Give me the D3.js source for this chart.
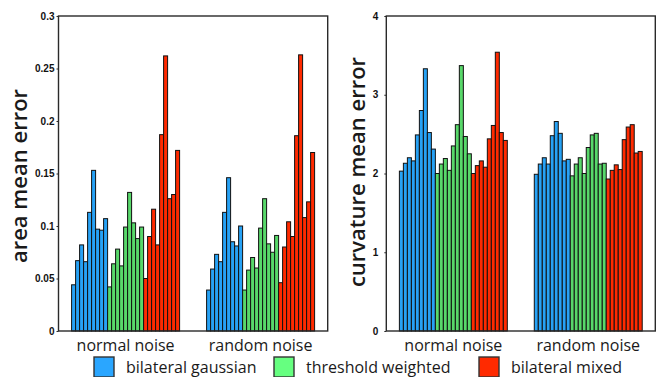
<!DOCTYPE html>
<html>
<head>
<meta charset="utf-8">
<script src="https://cdn.jsdelivr.net/npm/d3@7"></script>
<style>
  body { margin: 0; background: #fff; }
  .tick-lbl { font-family: "Liberation Sans Narrow", "Liberation Sans", sans-serif; font-weight: bold; font-size: 10px; }
  .title { font-family: "Open Sans", sans-serif; font-size: 22px; font-weight: 600; fill: #1a1a1a; }
  .cat { font-family: "Open Sans", sans-serif; font-size: 16px; fill: #1a1a1a; }
</style>
</head>
<body>
<svg id="chart" width="658" height="377"></svg>
<script>
// categories and series
const noiseTypes = ['normal noise', 'random noise'];
const methods = ['bilateral gaussian', 'threshold weighted', 'bilateral mixed'];
const colors = ['#27a2f5', '#58d86a', '#ff2a00'];
const legendColors = ['#2aa6ff', '#66ff80', '#ff2a00'];

// area mean error (9 runs per method)
const areaNormalGaussian  = [0.044, 0.067, 0.082, 0.066, 0.113, 0.153, 0.097, 0.096, 0.107];
const areaNormalThreshold = [0.042, 0.064, 0.078, 0.062, 0.099, 0.132, 0.103, 0.088, 0.099];
const areaNormalMixed     = [0.050, 0.090, 0.116, 0.082, 0.187, 0.262, 0.126, 0.130, 0.172];
const areaRandomGaussian  = [0.039, 0.059, 0.073, 0.066, 0.113, 0.146, 0.085, 0.081, 0.100];
const areaRandomThreshold = [0.039, 0.058, 0.070, 0.060, 0.098, 0.126, 0.083, 0.075, 0.091];
const areaRandomMixed     = [0.046, 0.080, 0.104, 0.090, 0.186, 0.263, 0.108, 0.123, 0.170];

// curvature mean error
const curvNormalGaussian  = [2.03, 2.13, 2.20, 2.16, 2.49, 2.80, 3.33, 2.52, 2.31];
const curvNormalThreshold = [2.00, 2.12, 2.19, 2.04, 2.35, 2.62, 3.37, 2.47, 2.25];
const curvNormalMixed     = [2.00, 2.10, 2.16, 2.08, 2.44, 2.61, 3.54, 2.52, 2.42];
const curvRandomGaussian  = [1.99, 2.12, 2.20, 2.12, 2.48, 2.66, 2.51, 2.16, 2.18];
const curvRandomThreshold = [1.97, 2.12, 2.20, 2.00, 2.33, 2.49, 2.51, 2.12, 2.13];
const curvRandomMixed     = [1.93, 2.04, 2.11, 2.05, 2.43, 2.59, 2.62, 2.26, 2.28];

// tick labels
const areaTicks = [0, 0.05, 0.1, 0.15, 0.2, 0.25, 0.3];
const curvTicks = [0, 1, 2, 3, 4];

const svg = d3.select('#chart');

// flatten one noise group into 27 bars (method order: gaussian, threshold, mixed)
function groupBars(series) {
  const bars = [];
  series.forEach((vals, m) => vals.forEach(v => bars.push({ m: m, v: v })));
  return bars;
}

function drawPanel(opt) {
  const g = svg.append('g');

  const x0 = d3.scaleBand()
      .domain(noiseTypes)
      .range([opt.left, opt.right])
      .paddingInner(0.2)
      .paddingOuter(0.097);

  const y = d3.scaleLinear()
      .domain([0, opt.max])
      .range([331, 16]);

  const xi = d3.scaleBand()
      .domain(d3.range(27))
      .range([0, x0.bandwidth()]);

  // bars
  noiseTypes.forEach((n, k) => {
    const bars = groupBars(opt.data[k]);
    g.append('g')
        .attr('transform', 'translate(' + x0(n) + ',0)')
        .selectAll('rect')
        .data(bars)
        .enter()
        .append('rect')
        .attr('x', (d, i) => xi(i))
        .attr('y', d => y(d.v))
        .attr('width', xi.bandwidth())
        .attr('height', d => y(0) - y(d.v))
        .attr('fill', d => colors[d.m])
        .attr('stroke', '#111')
        .attr('stroke-width', 1);
  });

  // frame
  g.append('rect')
      .attr('x', opt.left)
      .attr('y', 16)
      .attr('width', opt.right - opt.left)
      .attr('height', 315)
      .attr('fill', 'none')
      .attr('stroke', '#2a2a2a')
      .attr('stroke-width', 1.4);

  // y axis
  const ax = g.append('g')
      .attr('transform', 'translate(' + opt.left + ',0)')
      .call(d3.axisLeft(y).tickValues(opt.ticks).tickSize(2).tickPadding(opt.pad).tickFormat(d3.format('~g')));
  ax.select('.domain').remove();
  ax.selectAll('line').attr('stroke', '#2a2a2a');
  ax.selectAll('text').attr('class', 'tick-lbl').attr('fill', '#111');

  // category labels
  g.selectAll('.cat')
      .data(noiseTypes)
      .enter()
      .append('text')
      .attr('class', 'cat')
      .attr('x', d => x0(d) + x0.bandwidth() / 2)
      .attr('y', 350.5)
      .attr('text-anchor', 'middle')
      .text(d => d);

  // y title
  g.append('text')
      .attr('class', 'title')
      .attr('transform', 'translate(' + opt.titleX + ',' + opt.titleY + ') rotate(-90)')
      .attr('text-anchor', 'middle')
      .text(opt.title);
}

drawPanel({
  left: 58.5, right: 327.7, max: 0.3, ticks: areaTicks, pad: 2,
  title: 'area mean error', titleX: 27, titleY: 176,
  data: [[areaNormalGaussian, areaNormalThreshold, areaNormalMixed],
         [areaRandomGaussian, areaRandomThreshold, areaRandomMixed]]
});

drawPanel({
  left: 386.3, right: 655.3, max: 4, ticks: curvTicks, pad: 6,
  title: 'curvature mean error', titleX: 365, titleY: 172,
  data: [[curvNormalGaussian, curvNormalThreshold, curvNormalMixed],
         [curvRandomGaussian, curvRandomThreshold, curvRandomMixed]]
});

// legend
const legendX = [94, 274, 479];
const legend = svg.append('g');
legend.selectAll('rect')
    .data(methods)
    .enter()
    .append('rect')
    .attr('x', (d, i) => legendX[i])
    .attr('y', 357)
    .attr('width', 20)
    .attr('height', 20)
    .attr('fill', (d, i) => legendColors[i])
    .attr('stroke', '#333')
    .attr('stroke-width', 1.4);
legend.selectAll('text')
    .data(methods)
    .enter()
    .append('text')
    .attr('class', 'cat')
    .attr('x', (d, i) => legendX[i] + 32)
    .attr('y', 373)
    .text(d => d);
</script>
</body>
</html>
